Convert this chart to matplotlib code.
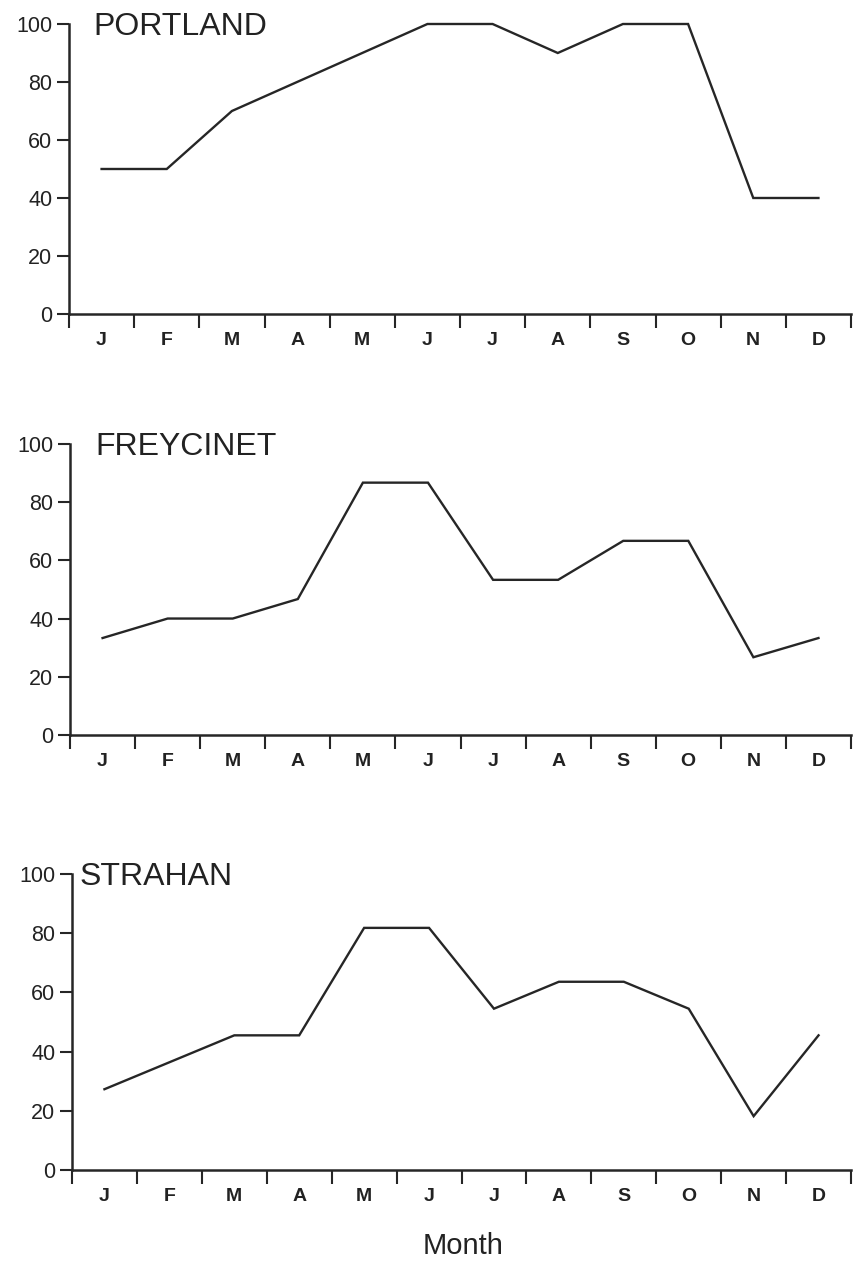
import numpy as np
import matplotlib
matplotlib.use('Agg')
import matplotlib.pyplot as plt

plt.rcParams['font.family'] = ['Liberation Sans', 'DejaVu Sans']

months = ['J', 'F', 'M', 'A', 'M', 'J', 'J', 'A', 'S', 'O', 'N', 'D']

portland = [50, 50, 70, 80, 90, 100, 100, 90, 100, 100, 40, 40]
freycinet = [33.3, 40, 40, 46.7, 86.7, 86.7, 53.3, 53.3, 66.7, 66.7, 26.7, 33.3]
strahan = [27.3, 36.4, 45.5, 45.5, 81.8, 81.8, 54.5, 63.6, 63.6, 54.5, 18.2, 45.5]

sites = ['PORTLAND', 'FREYCINET', 'STRAHAN']
series = [portland, freycinet, strahan]

ink = '#262626'

fig = plt.figure(figsize=(8.54, 12.63), dpi=100)

# axes boxes [left, bottom, width, height] in figure fractions
boxes = [[0.0808, 0.7514, 0.9157, 0.2296],
         [0.0820, 0.4181, 0.9145, 0.2304],
         [0.0843, 0.0736, 0.9122, 0.2344]]
title_x = [0.031, 0.032, 0.010]

x = np.arange(1, 13)
for box, name, vals, tx in zip(boxes, sites, series, title_x):
    ax = fig.add_axes(box)
    ax.plot(x, vals, color=ink, lw=1.7, solid_joinstyle='miter',
            clip_on=False)
    ax.set_xlim(0.5, 12.5)
    ax.set_ylim(0, 100)
    ax.spines['top'].set_visible(False)
    ax.spines['right'].set_visible(False)
    for s in ['left', 'bottom']:
        ax.spines[s].set_color(ink)
        ax.spines[s].set_linewidth(1.8)
    ax.set_yticks([0, 20, 40, 60, 80, 100])
    ax.tick_params(axis='y', direction='out', length=9, width=1.5,
                   color=ink, labelsize=15.5, pad=3, labelcolor='#222222')
    # month boundaries as ticks, labels centred between them
    ax.set_xticks(np.arange(0.5, 13, 1))
    ax.set_xticklabels([])
    ax.set_xticks(x, minor=True)
    ax.set_xticklabels(months, minor=True, fontsize=14, fontweight='bold',
                       color='#222222')
    ax.tick_params(axis='x', which='major', direction='out', length=10,
                   width=1.5, color=ink)
    ax.tick_params(axis='x', which='minor', length=0, pad=13)
    ax.text(tx, 0.99, name, transform=ax.transAxes, fontsize=23,
            color='#222222', ha='left', va='center')

fig.text(0.542, 0.0135, 'Month', fontsize=21, color='#222222',
         ha='center', va='center')

fig.savefig('out.png', dpi=100, facecolor='white')
